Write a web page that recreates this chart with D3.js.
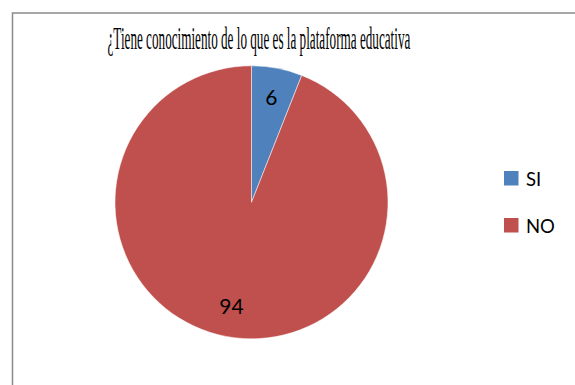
<!DOCTYPE html>
<html>
<head>
<meta charset="utf-8">
<script src="https://cdn.jsdelivr.net/npm/d3@7"></script>
<style>
  html, body { margin: 0; padding: 0; background: #ffffff; }
  svg { display: block; }
</style>
</head>
<body>
<svg id="chart" width="575" height="385"></svg>
<script>
// Survey answers and their counts
const categories = ["SI", "NO"];
const values = [6, 94];
const colors = ["#4F81BD", "#C0504D"];
const title = "¿Tiene conocimiento de lo que es la plataforma educativa";

const svg = d3.select("#chart");

// Chart frame (open to the right and bottom edges)
svg.append("rect")
  .attr("x", 12.5).attr("y", 13)
  .attr("width", 640).attr("height", 420)
  .attr("fill", "#ffffff")
  .attr("stroke", "#8a8a8a")
  .attr("stroke-width", 1.5);

// Title in a tall serif face, squeezed horizontally to its box width
const titleWidth = 303;
const titleG = svg.append("g");
const titleText = titleG.append("text")
  .attr("x", 0).attr("y", 0)
  .attr("font-family", "Liberation Serif, Times New Roman, serif")
  .attr("font-size", 32)
  .attr("fill", "#000")
  .text(title);
const natural = titleText.node().getComputedTextLength();
titleG.attr("transform", `translate(107.5,49) scale(${titleWidth / natural},1)`);

// Pie
const cx = 251.5, cy = 202.3, radius = 136.5;
const color = d3.scaleOrdinal().domain(categories).range(colors);
const data = categories.map((c, i) => ({ cat: c, value: values[i] }));
const pie = d3.pie().sort(null).value(d => d.value);
const arc = d3.arc().innerRadius(0).outerRadius(radius);
const labelArc = d3.arc().innerRadius(radius * 0.78).outerRadius(radius * 0.78);

const g = svg.append("g").attr("transform", `translate(${cx},${cy})`);
const arcs = pie(data);

g.selectAll("path.slice")
  .data(arcs)
  .join("path")
  .attr("class", "slice")
  .attr("d", arc)
  .attr("fill", d => color(d.data.cat))
  .attr("stroke", "#ffffff")
  .attr("stroke-width", 0.5);

g.selectAll("text.val")
  .data(arcs)
  .join("text")
  .attr("class", "val")
  .attr("transform", d => {
    const [x, y] = labelArc.centroid(d);
    return `translate(${x},${y})`;
  })
  .attr("text-anchor", "middle")
  .attr("dy", "0.36em")
  .attr("font-family", "Lato, Open Sans, sans-serif")
  .attr("font-size", 21)
  .attr("fill", "#000")
  .text(d => d.data.value);

// Legend
const legend = svg.append("g").attr("transform", "translate(504,171)");
const legendStep = d3.scalePoint().domain(categories).range([0, 47]);
const items = legend.selectAll("g.item")
  .data(categories)
  .join("g")
  .attr("class", "item")
  .attr("transform", d => `translate(0,${legendStep(d)})`);

items.append("rect")
  .attr("width", 14.5).attr("height", 14.5)
  .attr("fill", d => color(d));

items.append("text")
  .attr("x", 22).attr("y", 14.5)
  .attr("font-family", "Lato, Open Sans, sans-serif")
  .attr("font-size", 18.5)
  .attr("fill", "#000")
  .text(d => d);
</script>
</body>
</html>
